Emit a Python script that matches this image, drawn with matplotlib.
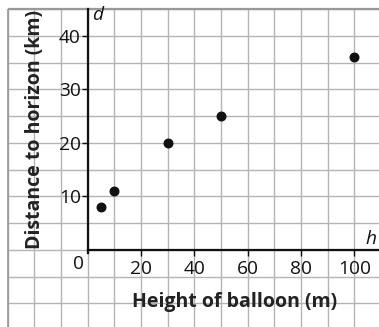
import matplotlib
matplotlib.use("Agg")
import matplotlib.pyplot as plt
import numpy as np

plt.rcParams['font.family'] = ['Open Sans', 'DejaVu Sans']

# Data
heights = [5, 10, 30, 50, 100]
distances = [8, 11, 20, 25, 36]
x_ticks = [20, 40, 60, 80, 100]
y_ticks = [10, 20, 30, 40]
x_label = "Height of balloon (m)"
y_label = "Distance to horizon (km)"

fig = plt.figure(figsize=(3.79, 3.27), dpi=100)
ax = fig.add_axes([0, 0, 1, 1])
ax.set_facecolor('white')

xmin, xmax = -32.9, 109.2
ymin, ymax = -14.4, 46.7
ax.set_xlim(xmin, xmax)
ax.set_ylim(ymin, ymax)

grid_col = '#b4b4b4'
# grid
for gx in np.arange(-30, 110, 10):
    ax.vlines(gx, ymin, 45, color=grid_col, lw=1.0, zorder=1)
for gy in np.arange(-10, 46, 5):
    ax.hlines(gy, -30, xmax, color=grid_col, lw=1.0, zorder=1)
ax.hlines(45, -30, xmax, color='#999999', lw=1.6, zorder=1)
ax.vlines(-30, ymin, 45, color='#999999', lw=1.2, zorder=1)

# spines as axes
for s in ['top', 'right']:
    ax.spines[s].set_visible(False)
ax.spines['left'].set_position(('data', 0))
ax.spines['bottom'].set_position(('data', 0))
ax.spines['left'].set_bounds(-0.5, 45)
ax.spines['bottom'].set_bounds(0, xmax)
for s in ['left', 'bottom']:
    ax.spines[s].set_linewidth(1.6)
    ax.spines[s].set_color('#111111')
    ax.spines[s].set_zorder(3)

ax.set_xticks(x_ticks)
ax.set_yticks(y_ticks)
ax.tick_params(axis='both', direction='out', length=4, width=1.0,
               colors='#111111', labelsize=13.8, pad=1.0)
ax.tick_params(axis='x', pad=3)

ax.scatter(heights, distances, s=38, color='#111111', zorder=4)

# origin label and axis letters
ax.annotate('0', xy=(0, 0), xytext=(-6.5, -10), textcoords='offset points',
            ha='center', va='center', fontsize=13.8, color='#111111')
ax.annotate('d', xy=(0, 45), xytext=(7, -4), textcoords='offset points',
            ha='center', va='center', fontsize=13.8, style='italic', color='#111111')
ax.annotate('h', xy=(xmax, 0), xytext=(-6, 8), textcoords='offset points',
            ha='center', va='center', fontsize=13.8, style='italic', color='#111111')

ax.text(0.62, 0.075, x_label, transform=ax.transAxes, ha='center', va='center',
        fontsize=14, fontweight='bold', color='#222222')
ax.text(0.092, 0.605, y_label, transform=ax.transAxes, ha='center', va='center',
        rotation=90, fontsize=14, fontweight='bold', color='#222222')

fig.savefig('out.png', dpi=100)
